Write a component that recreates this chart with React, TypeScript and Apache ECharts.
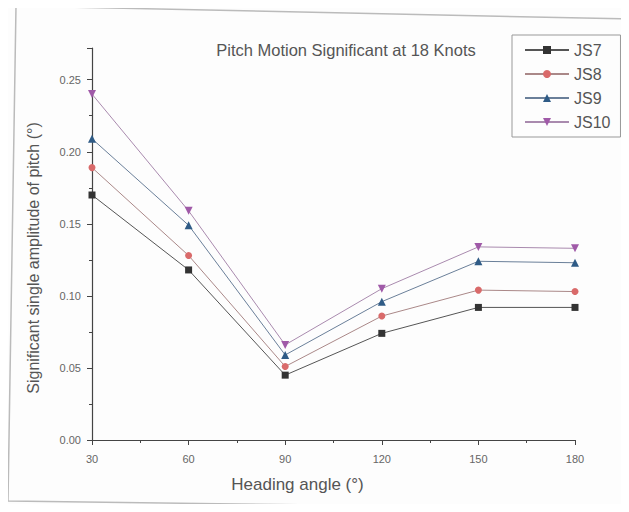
import React, { useEffect, useRef } from "react";
import * as echarts from "echarts";

const headings = [30, 60, 90, 120, 150, 180];
const js7 = [0.170, 0.118, 0.045, 0.074, 0.092, 0.092];
const js8 = [0.189, 0.128, 0.051, 0.086, 0.104, 0.103];
const js9 = [0.209, 0.149, 0.059, 0.096, 0.124, 0.123];
const js10 = [0.240, 0.159, 0.066, 0.105, 0.134, 0.133];
const seriesNames = ["JS7", "JS8", "JS9", "JS10"];
const yTicks = [0, 0.05, 0.1, 0.15, 0.2, 0.25];

const invTri = "path://M0,0 L10,0 L5,9 Z";

export default function App() {
  const ref = useRef<HTMLDivElement>(null);
  useEffect(() => {
    if (!ref.current) return;
    const chart = echarts.init(ref.current, null, { renderer: "svg" });
    const font = "Liberation Sans";
    const mk = (name: string, vals: number[], color: string, lineColor: string, symbol: string, size: number) => ({
      name,
      type: "line",
      data: headings.map((h, i) => [h, vals[i]]),
      symbol,
      symbolSize: size,
      itemStyle: { color },
      lineStyle: { color: lineColor, width: 1 },
      emphasis: { disabled: true },
    });
    chart.setOption({
      animation: false,
      backgroundColor: "#fdfdfd",
      textStyle: { fontFamily: font },
      title: {
        text: "Pitch Motion Significant at 18 Knots",
        left: 341,
        top: 36,
        textAlign: "center",
        textStyle: { fontSize: 16.5, fontWeight: "normal", color: "#555", fontFamily: font },
      },
      legend: {
        data: seriesNames,
        orient: "vertical",
        left: 512,
        top: 35,
        itemWidth: 44,
        itemHeight: 10,
        itemGap: 8,
        padding: [7, 10, 7, 12],
        borderColor: "#999",
        borderWidth: 1,
        textStyle: { fontSize: 16, color: "#555", fontFamily: font },
      },
      grid: { left: 92, right: 54, top: 48, bottom: 72, containLabel: false },
      xAxis: {
        type: "value",
        min: 30,
        max: 180,
        interval: 30,
        name: "Heading angle (°)",
        nameLocation: "middle",
        nameGap: 36,
        nameTextStyle: { fontSize: 17, color: "#555", padding: [0, 72, 0, 0] },
        axisLine: { lineStyle: { color: "#444", width: 1.2 } },
        axisTick: { length: 5, lineStyle: { color: "#444" } },
        minorTick: { show: true, splitNumber: 2, length: 3, lineStyle: { color: "#444" } },
        axisLabel: { fontSize: 11, color: "#666", margin: 13 },
        splitLine: { show: false },
      },
      yAxis: {
        type: "value",
        min: 0,
        max: 0.272,
        interval: 0.05,
        name: "Significant single amplitude of pitch (°)",
        nameLocation: "middle",
        nameGap: 51,
        nameTextStyle: { fontSize: 16, color: "#555", padding: [0, 28, 0, 0] },
        axisLine: { show: true, lineStyle: { color: "#444", width: 1.2 } },
        axisTick: { show: true, length: 5, lineStyle: { color: "#444" } },
        minorTick: { show: true, splitNumber: 2, length: 3, lineStyle: { color: "#444" } },
        axisLabel: {
          fontSize: 11,
          color: "#666",
          margin: 11,
          formatter: (v: number) => (yTicks.some((t) => Math.abs(t - v) < 1e-9) ? v.toFixed(2) : ""),
        },
        splitLine: { show: false },
      },
      graphic: [
        {
          type: "polyline",
          shape: { points: [[629, 19], [16, 6], [8, 501], [629, 509]] },
          style: { stroke: "#bbb", lineWidth: 1.5, fill: "none" },
          silent: true,
        },
      ],
      series: [
        mk("JS7", js7, "#333", "#555", "rect", 7),
        mk("JS8", js8, "#d96a6a", "#a88", "circle", 7),
        mk("JS9", js9, "#2f5b86", "#6a7f99", "triangle", 8),
        mk("JS10", js10, "#a05aa8", "#a98aae", invTri, 8),
      ],
    });
    return () => chart.dispose();
  }, []);
  return <div ref={ref} style={{ width: 629, height: 512, margin: -8 }} />;
}
